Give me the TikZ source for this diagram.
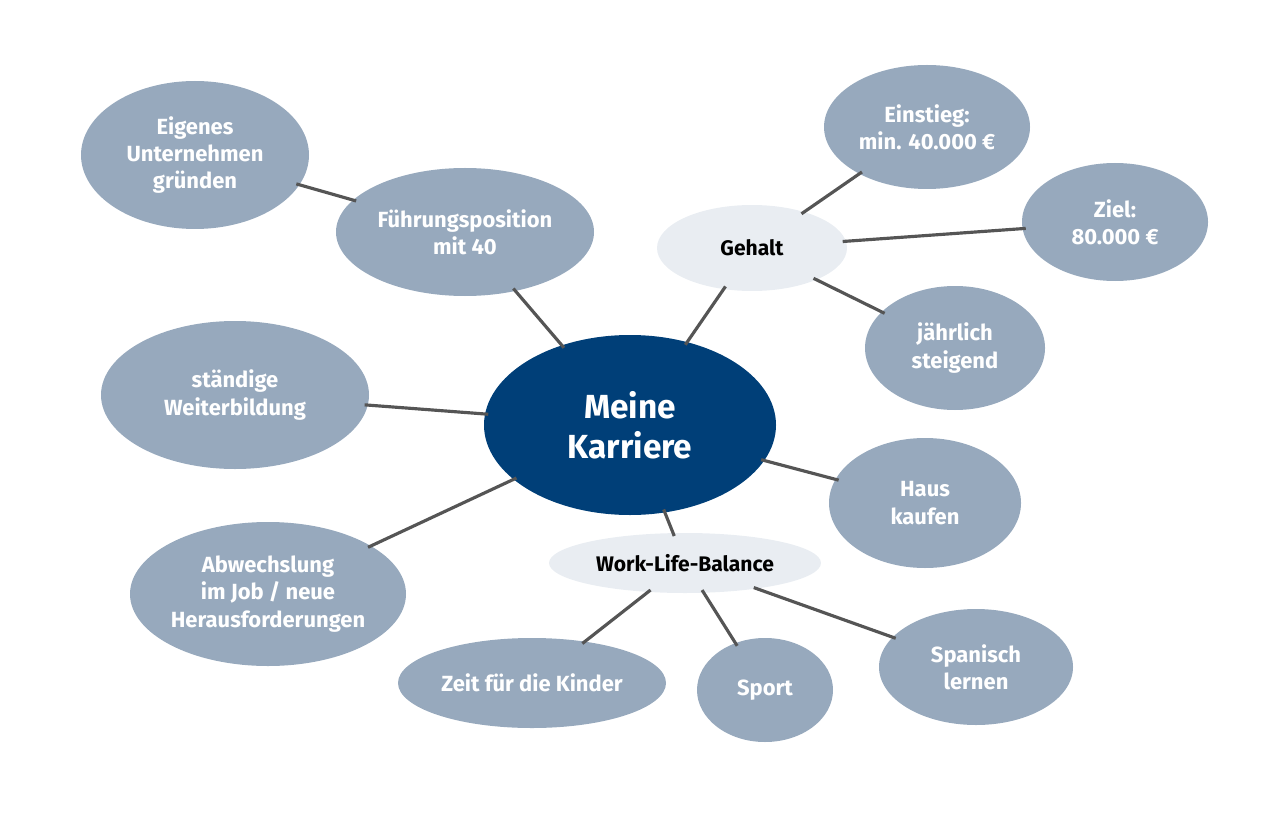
\documentclass[tikz,border=0pt]{standalone}
\usepackage{fontspec}
\setmainfont{Fira Sans}
\usetikzlibrary{shapes.geometric}
\definecolor{bub}{HTML}{97A9BD}
\definecolor{core}{HTML}{003F78}
\definecolor{light}{HTML}{E9EDF2}
\definecolor{con}{HTML}{555555}
\tikzset{
 bubble/.style={ellipse,fill=bub,text=white,font=\fontsize{12.5}{15.5}\selectfont\bfseries,align=center,inner sep=0pt},
 hub/.style={ellipse,fill=light,text=black,font=\fontsize{12}{14}\selectfont\bfseries,align=center,inner sep=0pt},
 link/.style={draw=con,line width=1.8pt,shorten <=-2pt,shorten >=-2pt}
}
\newcommand{\E}[5]{\node[#1,minimum width=#4*0.02cm,minimum height=#5*0.02cm] (#2) at (#3) }
\begin{document}
\begin{tikzpicture}[x=0.02cm,y=-0.02cm]
\useasboundingbox (0,0) rectangle (1283,817);
\E{ellipse,fill=core,text=white,font=\fontsize{19}{23}\selectfont\bfseries,align=center}{mk}{630,425}{292}{180} {Meine\\Karriere};
\E{bubble}{fp}{465,232}{258}{128} {Führungsposition\\mit 40};
\E{bubble}{eu}{195,155}{228}{148} {Eigenes\\Unternehmen\\gründen};
\E{hub}{ge}{752,248}{190}{86} {Gehalt};
\E{bubble}{ei}{927,127}{206}{124} {Einstieg:\\min. 40.000 €};
\E{bubble}{zi}{1115,222}{186}{118} {Ziel:\\80.000 €};
\E{bubble}{js}{955,348}{180}{124} {jährlich\\steigend};
\E{bubble}{sw}{235,395}{268}{148} {ständige\\Weiterbildung};
\E{bubble}{hk}{925,503}{192}{130} {Haus\\kaufen};
\E{bubble}{ab}{268,594}{276}{144} {Abwechslung\\im Job / neue\\Herausforderungen};
\E{hub}{wl}{685,563}{272}{60} {Work-Life-Balance};
\E{bubble}{zk}{532,683}{268}{90} {Zeit für die Kinder};
\E{bubble}{sp}{765,690}{136}{104} {Sport};
\E{bubble}{sl}{976,667}{194}{116} {Spanisch\\lernen};
\draw[link] (mk) -- (fp);
\draw[link] (fp) -- (eu);
\draw[link] (mk) -- (ge);
\draw[link] (ge) -- (ei);
\draw[link] (ge) -- (zi);
\draw[link] (ge) -- (js);
\draw[link] (mk) -- (sw);
\draw[link] (mk) -- (hk);
\draw[link] (mk) -- (ab);
\draw[link] (mk) -- (wl);
\draw[link] (wl) -- (zk);
\draw[link] (wl) -- (sp);
\draw[link] (wl) -- (sl);
\end{tikzpicture}
\end{document}
